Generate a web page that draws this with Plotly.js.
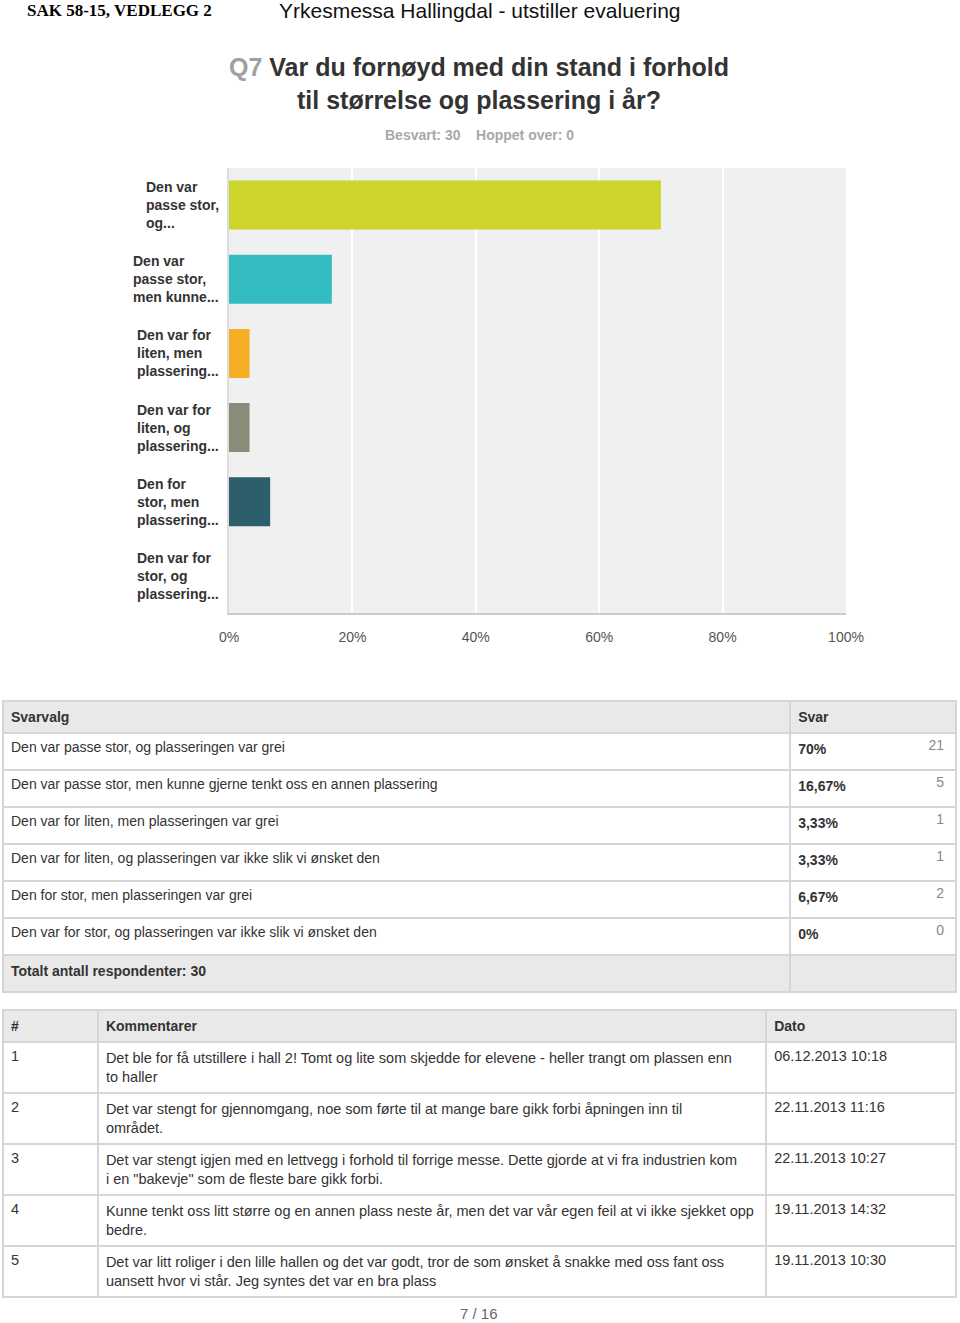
<!DOCTYPE html>
<html>
<head>
<meta charset="utf-8">
<script src="https://cdn.plot.ly/plotly-3.0.1.min.js"></script>
<style>
  body { margin: 0; background: #fff; }
  #myChart { width: 960px; height: 1323px; }
</style>
</head>
<body>
<div id="myChart"></div>
<script>
var H = 1323;
var W = 960;

// bar chart
var barLabels = [
    'Den var<br>passe stor,<br>og...',
    'Den var<br>passe stor,<br>men kunne...',
    'Den var for<br>liten, men<br>plassering...',
    'Den var for<br>liten, og<br>plassering...',
    'Den for<br>stor, men<br>plassering...',
    'Den var for<br>stor, og<br>plassering...'
];
var barValues = [70, 16.67, 3.33, 3.33, 6.67, 0];
var barColors = ['#CDD42B', '#34BDC0', '#F6AE24', '#8B8B7A', '#2D5E6B', '#DA4C5C'];
var tickVals = [0, 20, 40, 60, 80, 100];
var tickText = ['0%', '20%', '40%', '60%', '80%', '100%'];

// first table
var choices = [
    'Den var passe stor, og plasseringen var grei',
    'Den var passe stor, men kunne gjerne tenkt oss en annen plassering',
    'Den var for liten, men plasseringen var grei',
    'Den var for liten, og plasseringen var ikke slik vi ønsket den',
    'Den for stor, men plasseringen var grei',
    'Den var for stor, og plasseringen var ikke slik vi ønsket den'
];
var pctText = ['70%', '16,67%', '3,33%', '3,33%', '6,67%', '0%'];
var counts = [21, 5, 1, 1, 2, 0];
var totalText = 'Totalt antall respondenter: 30';

// comments table
var commentIds = [1, 2, 3, 4, 5];
var comments = [
    'Det ble for få utstillere i hall 2! Tomt og lite som skjedde for elevene - heller trangt om plassen enn<br>to haller',
    'Det var stengt for gjennomgang, noe som førte til at mange bare gikk forbi åpningen inn til<br>området.',
    'Det var stengt igjen med en lettvegg i forhold til forrige messe. Dette gjorde at vi fra industrien kom<br>i en "bakevje" som de fleste bare gikk forbi.',
    'Kunne tenkt oss litt større og en annen plass neste år, men det var vår egen feil at vi ikke sjekket opp<br>bedre.',
    'Det var litt roliger i den lille hallen og det var godt, tror de som ønsket å snakke med oss fant oss<br>uansett hvor vi står. Jeg syntes det var en bra plass'
];
var commentDates = ['06.12.2013 10:18', '22.11.2013 11:16', '22.11.2013 10:27', '19.11.2013 14:32', '19.11.2013 10:30'];

var FONT = 'Liberation Sans, Arial, sans-serif';
var GRAY_FILL = '#e9e9e9';
var BORDER = '#d6d6d6';

function px(x) { return x / W; }
function py(y) { return 1 - y / H; }

var bars = {
    type: 'bar',
    orientation: 'h',
    x: barValues,
    y: barLabels,
    width: 0.66,
    marker: { color: barColors },
    hoverinfo: 'x',
    showlegend: false
};

var rowFill = choices.map(function() { return '#ffffff'; }).concat([GRAY_FILL]);

var table1 = {
    type: 'table',
    domain: { x: [px(3), px(957)], y: [py(1000), py(701)] },
    columnwidth: [788, 166],
    header: {
        values: ['<b>Svarvalg</b>', '<b>Svar</b>'],
        align: 'left',
        height: 30,
        fill: { color: GRAY_FILL },
        line: { color: BORDER, width: 2 },
        font: { family: FONT, size: 14, color: '#333' }
    },
    cells: {
        values: [
            choices.concat(['<b>' + totalText + '</b>']),
            pctText.map(function(p) { return '<b>' + p + '</b>'; }).concat([''])
        ],
        align: 'left',
        height: 37,
        fill: { color: [rowFill, rowFill] },
        line: { color: BORDER, width: 2 },
        font: { family: FONT, size: 14, color: '#333' }
    }
};

// counts sit on top of the "Svar" column, no borders of their own
var table1Counts = {
    type: 'table',
    domain: { x: [px(880), px(952)], y: [py(1000), py(701)] },
    header: {
        values: [''],
        height: 30,
        fill: { color: 'rgba(0,0,0,0)' },
        line: { width: 0 }
    },
    cells: {
        values: [counts.map(String).concat([''])],
        align: 'right',
        height: 37,
        fill: { color: 'rgba(0,0,0,0)' },
        line: { width: 0 },
        font: { family: FONT, size: 14, color: '#888' }
    }
};

var table2 = {
    type: 'table',
    domain: { x: [px(3), px(957)], y: [py(1300), py(1010)] },
    columnwidth: [95, 669, 190],
    header: {
        values: ['<b>#</b>', '<b>Kommentarer</b>', '<b>Dato</b>'],
        align: 'left',
        height: 30,
        fill: { color: GRAY_FILL },
        line: { color: BORDER, width: 2 },
        font: { family: FONT, size: 14, color: '#333' }
    },
    cells: {
        values: [commentIds.map(String), comments, commentDates],
        align: 'left',
        height: 51,
        fill: { color: '#ffffff' },
        line: { color: BORDER, width: 2 },
        font: { family: FONT, size: 14.5, color: '#333' }
    }
};

var annotations = barLabels.map(function(lab) {
    return {
        text: lab, xref: 'paper', yref: 'y', x: px(221), y: lab,
        xanchor: 'right', yanchor: 'middle', align: 'left', showarrow: false,
        font: { family: FONT, size: 14, color: '#333', weight: 'bold' }
    };
});

annotations.push({
    text: '<b>SAK 58-15, VEDLEGG 2</b>', xref: 'paper', yref: 'paper',
    x: px(25), y: py(11), xanchor: 'left', yanchor: 'middle', showarrow: false,
    font: { family: 'Liberation Serif, Times New Roman, serif', size: 17, color: '#000' }
});
annotations.push({
    text: 'Yrkesmessa Hallingdal - utstiller evaluering', xref: 'paper', yref: 'paper',
    x: px(277), y: py(11), xanchor: 'left', yanchor: 'middle', showarrow: false,
    font: { family: FONT, size: 21, color: '#111' }
});
annotations.push({
    text: '<b>Besvart: 30\u00a0\u00a0\u00a0\u00a0Hoppet over: 0</b>', xref: 'paper', yref: 'paper',
    x: px(479), y: py(135), xanchor: 'center', yanchor: 'middle', showarrow: false,
    font: { family: FONT, size: 14, color: '#a8a8a8' }
});
annotations.push({
    text: '7 / 16', xref: 'paper', yref: 'paper',
    x: px(479), y: py(1313), xanchor: 'center', yanchor: 'middle', showarrow: false,
    font: { family: FONT, size: 15, color: '#666' }
});

var layout = {
    width: W,
    height: H,
    margin: { l: 0, r: 0, t: 0, b: 0, pad: 0 },
    paper_bgcolor: '#ffffff',
    plot_bgcolor: '#f0f0f0',
    font: { family: FONT },
    title: {
        text: '<b><span style="color:#a0a0a0">Q7</span> Var du fornøyd med din stand i forhold<br>til størrelse og plassering i år?</b>',
        x: px(479),
        xanchor: 'center',
        y: py(76),
        yanchor: 'top',
        font: { family: FONT, size: 25, color: '#333' }
    },
    xaxis: {
        domain: [px(229), px(846)],
        range: [0, 100],
        tickvals: tickVals,
        ticktext: tickText,
        showgrid: true,
        gridcolor: '#ffffff',
        gridwidth: 2,
        zeroline: false,
        showline: true,
        linecolor: '#cccccc',
        linewidth: 2,
        ticks: '',
        ticklabelstandoff: 10,
        tickfont: { family: FONT, size: 14, color: '#555' },
        fixedrange: true
    },
    yaxis: {
        domain: [py(613), py(168)],
        type: 'category',
        autorange: 'reversed',
        showticklabels: false,
        showgrid: false,
        zeroline: false,
        showline: true,
        linecolor: '#dddddd',
        linewidth: 2,
        ticks: '',
        fixedrange: true
    },
    bargap: 0.34,
    annotations: annotations
};

var config = {
    displaylogo: false,
    displayModeBar: false,
    responsive: false
};

Plotly.newPlot('myChart', [bars, table1, table1Counts, table2], layout, config);
</script>
</body>
</html>
